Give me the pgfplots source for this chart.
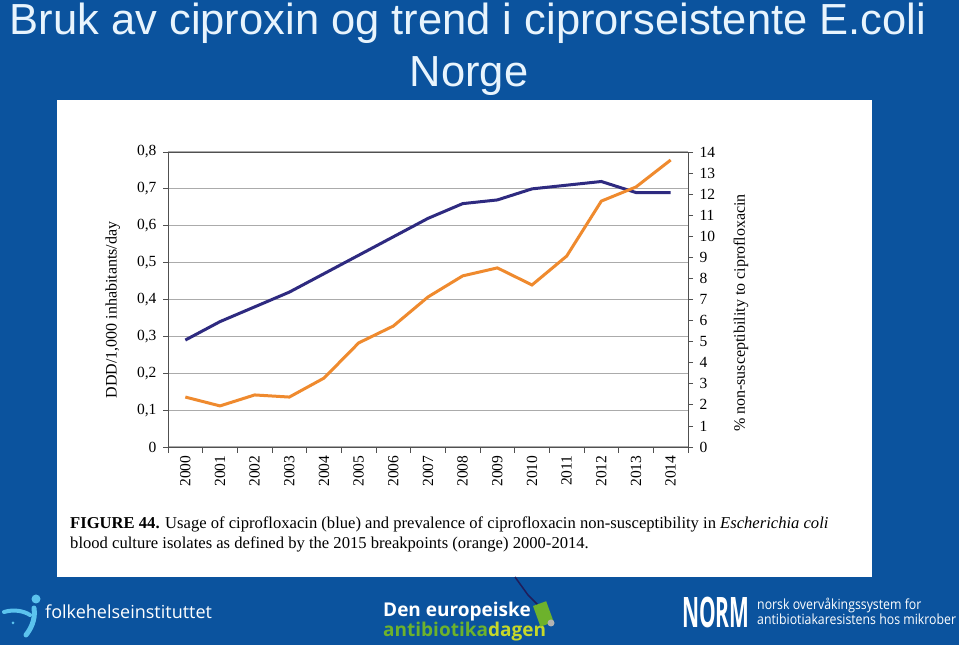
\documentclass[border=0pt]{standalone}
\usepackage{pgfplots}
\pgfplotsset{compat=1.18}
\usepackage{fontspec}
\usepackage{graphicx}
\setmainfont{Liberation Serif}
\newfontfamily\titlefont{Liberation Sans}
\newfontfamily\logofont{Open Sans}
\definecolor{slideblue}{HTML}{0B539E}
\definecolor{titlecol}{HTML}{E8F4FD}
\definecolor{usage}{HTML}{2E2A80}
\definecolor{resist}{HTML}{EF8A2E}
\definecolor{gridgray}{HTML}{ABABAB}
\definecolor{axisgray}{HTML}{505050}
\definecolor{fhiblue}{HTML}{5BC3EE}
\definecolor{abgreen}{HTML}{6DB22C}
\definecolor{abyellow}{HTML}{C5D82A}

\pgfplotstableread{
x y
0 0.29
1 0.34
2 0.38
3 0.42
4 0.47
5 0.52
6 0.57
7 0.62
8 0.66
9 0.67
10 0.70
11 0.71
12 0.72
13 0.69
14 0.69
}\usagedata

\pgfplotstableread{
x y
0 2.37
1 1.95
2 2.47
3 2.37
4 3.27
5 4.94
6 5.74
7 7.12
8 8.12
9 8.50
10 7.69
11 9.06
12 11.67
13 12.34
14 13.62
}\resistdata

\begin{document}
\begin{tikzpicture}[x=1pt,y=1pt]
\fill[slideblue] (0,0) rectangle (959,645);
\fill[white] (57,68) rectangle (872,545);
\node[anchor=base, inner sep=0pt, text=titlecol, font=\titlefont\fontsize{43.5}{50}\selectfont] at (468,610) {Bruk av ciproxin og trend i ciprorseistente E.coli};
\node[anchor=base, inner sep=0pt, text=titlecol, font=\titlefont\fontsize{43.5}{50}\selectfont] at (469,558) {Norge};

\begin{axis}[
  at={(168pt,198pt)}, anchor=south west,
  scale only axis, width=520pt, height=295pt,
  xmin=-0.5, xmax=14.5, ymin=0, ymax=0.8,
  tick pos=left, tick align=outside,
  axis line style={axisgray, line width=0.8pt},
  xtick={0,...,14},
  xticklabels={2000,2001,2002,2003,2004,2005,2006,2007,2008,2009,2010,2011,2012,2013,2014},
  major x tick style={draw=none},
  minor xtick={-0.5,0.5,...,14.5},
  minor x tick style={axisgray, line width=0.8pt},
  minor tick length=6pt,
  major tick length=5pt,
  ytick={0,0.1,0.2,0.3,0.4,0.5,0.6,0.7,0.8},
  y tick style={axisgray, line width=0.8pt},
  ymajorgrids, grid style={gridgray, line width=1pt},
  /pgf/number format/.cd, use comma, fixed, precision=1, assume math mode=true,
  /pgfplots/.cd,
  tick label style={font=\fontsize{15.5}{15.5}\selectfont},
  x tick label style={rotate=90, anchor=east},
  y tick label style={xshift=-3pt},
  ylabel={DDD/1,000 inhabitants/day},
  ylabel style={at={(axis description cs:-0.106,0.464)}, anchor=center, rotate=0, font=\fontsize{16}{16}\selectfont},
]
\addplot[usage, line width=3pt] table[x=x,y=y] {\usagedata};
\end{axis}

\begin{axis}[
  at={(168pt,198pt)}, anchor=south west,
  scale only axis, width=520pt, height=295pt,
  xmin=-0.5, xmax=14.5, ymin=0, ymax=14,
  axis x line=none, axis y line*=right,
  tick align=outside,
  axis line style={axisgray, line width=0.8pt},
  ytick={0,1,...,14},
  y tick style={axisgray, line width=0.8pt},
  major tick length=5pt,
  /pgf/number format/assume math mode=true,
  tick label style={font=\fontsize{15.5}{15.5}\selectfont},
  y tick label style={xshift=3pt},
  ylabel={\% non-susceptibility to ciprofloxacin},
  ylabel style={at={(axis description cs:1.102,0.454)}, anchor=center, rotate=0, font=\fontsize{16}{16}\selectfont},
]
\addplot[resist, line width=3pt] table[x=x,y=y] {\resistdata};
\end{axis}

\node[anchor=base west, inner sep=0pt, font=\fontsize{16.6}{16.6}\selectfont] at (70,116) {\textbf{FIGURE 44.} Usage of ciprofloxacin (blue) and prevalence of ciprofloxacin non-susceptibility in \textit{Escherichia coli}};
\node[anchor=base west, inner sep=0pt, font=\fontsize{16.6}{16.6}\selectfont] at (70,96) {blood culture isolates as defined by the 2015 breakpoints (orange) 2000-2014.};

% folkehelseinstituttet logo
\fill[fhiblue] (36,46) circle (4.5);
\draw[fhiblue, line width=5pt, line cap=round] (34,37) .. controls (36,25) and (30,15) .. (26,10);
\draw[fhiblue, line width=4pt, line cap=round] (4,33) .. controls (14,36) and (24,34) .. (30,30);
\fill[fhiblue] (13,22) circle (1.5);
\node[anchor=base west, inner sep=0pt, text=white, font=\logofont\fontsize{18}{18}\selectfont] at (45,26) {folkehelseinstituttet};

% antibiotikadagen logo
\node[anchor=base west, inner sep=0pt, text=white, font=\logofont\bfseries\fontsize{19}{19}\selectfont] at (383,28) {Den europeiske};
\node[anchor=base west, inner sep=0pt, font=\logofont\bfseries\fontsize{19}{19}\selectfont] at (383,8) {\textcolor{abgreen}{antibiotika}\textcolor{abyellow}{dagen}};
\draw[usage!70!black, line width=1.5pt] (515,68) -- (528,50) -- (538,40);
\fill[abgreen, rotate around={20:(543,32)}] (536,20) rectangle (550,42);
\fill[gray!60] (551,22) circle (3.5);

% NORM logo
\node[anchor=base west, inner sep=0pt, text=white, font=\logofont\bfseries\fontsize{42}{42}\selectfont] at (682,17) {\scalebox{0.5}[1]{NORM}};
\node[anchor=base west, inner sep=0pt, text=white, font=\logofont\fontsize{14}{14}\selectfont] at (757,35) {\scalebox{0.88}[1]{norsk overvåkingssystem for}};
\node[anchor=base west, inner sep=0pt, text=white, font=\logofont\fontsize{14}{14}\selectfont] at (757,20) {\scalebox{0.88}[1]{antibiotiakaresistens hos mikrober}};
\end{tikzpicture}
\end{document}
